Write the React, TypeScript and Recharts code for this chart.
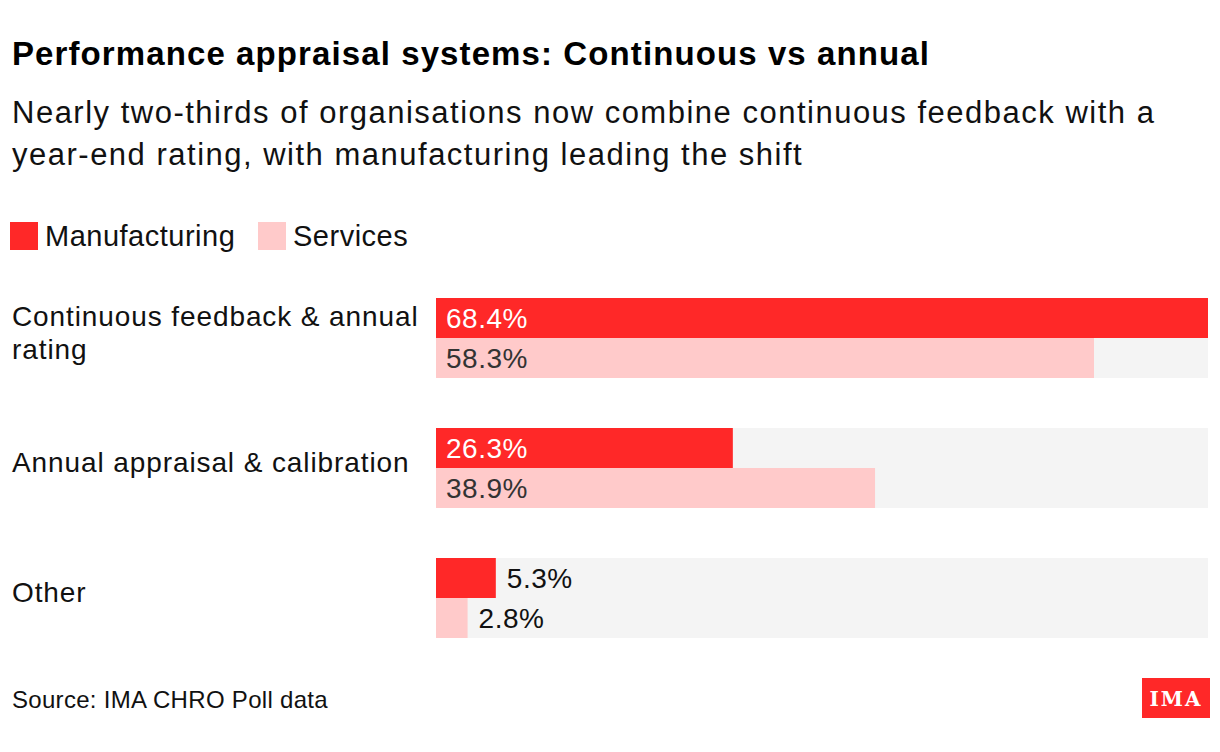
import React from 'react';
import { BarChart, Bar, XAxis, YAxis, LabelList } from 'recharts';

const CATEGORIES = ['Continuous feedback & annual rating', 'Annual appraisal & calibration', 'Other'];
const CATEGORY_LINES = [['Continuous feedback & annual', 'rating'], ['Annual appraisal & calibration'], ['Other']];
const MANUFACTURING = [68.4, 26.3, 5.3];
const SERVICES = [58.3, 38.9, 2.8];

const SERIES = [
  { key: 'manufacturing', name: 'Manufacturing', color: '#ff2828', inside: '#ffffff' },
  { key: 'services', name: 'Services', color: '#ffcaca', inside: '#333333' },
];

const FONT = '"Liberation Sans", Arial, Helvetica, sans-serif';
const W = 1220;
const H = 752;

const data = CATEGORIES.map((name, i) => ({
  name,
  manufacturing: MANUFACTURING[i],
  services: SERVICES[i],
}));

const CategoryTick = (props: any) => {
  const { y, payload, index } = props;
  const lines = CATEGORY_LINES[index] || [payload.value];
  const first = y + 4 - ((lines.length - 1) * 33) / 2;
  return (
    <text x={12} y={first} fill="#111" fontSize={28} letterSpacing={0.9} fontFamily={FONT} textAnchor="start">
      {lines.map((l: string, i: number) => (
        <tspan key={i} x={12} y={first + i * 33}>{l}</tspan>
      ))}
    </text>
  );
};

const valueLabel = (insideColor: string) => (props: any) => {
  const { x, y, width, height, value } = props;
  const inside = width > 90;
  return (
    <text
      x={inside ? x + 10 : x + width + 11}
      y={y + height / 2 + 10}
      fill={inside ? insideColor : '#111'}
      fontSize={28}
      letterSpacing={0.5}
      fontFamily={FONT}
      textAnchor="start"
    >
      {value}%
    </text>
  );
};

export default function App() {
  return (
    <div style={{ position: 'absolute', left: 0, top: 0, width: W, height: H, background: '#fff', fontFamily: FONT }}>
      <svg width={W} height={H} style={{ position: 'absolute', left: 0, top: 0 }}>
        <text x={12} y={65} fontSize={33} letterSpacing={1.1} fontWeight="bold" fill="#000" fontFamily={FONT}>
          Performance appraisal systems: Continuous vs annual
        </text>
        <text x={12} y={123} fontSize={31} letterSpacing={1.5} fill="#111" fontFamily={FONT}>
          Nearly two-thirds of organisations now combine continuous feedback with a
        </text>
        <text x={12} y={165} fontSize={31} letterSpacing={1.5} fill="#111" fontFamily={FONT}>
          year-end rating, with manufacturing leading the shift
        </text>
        {SERIES.map((s, i) => {
          const x0 = i === 0 ? 10 : 258;
          return (
            <g key={s.key}>
              <rect x={x0} y={222} width={28} height={28} fill={s.color} />
              <text x={x0 + 35} y={246} fontSize={29} letterSpacing={0.5} fill="#111" fontFamily={FONT}>{s.name}</text>
            </g>
          );
        })}
        <text x={12} y={708} fontSize={24} letterSpacing={0.3} fill="#111" fontFamily={FONT}>Source: IMA CHRO Poll data</text>
        <rect x={1142} y={678} width={68} height={40} fill="#ff2828" />
        <text x={1176} y={706} fontSize={20} fontWeight="bold" fill="#fff" textAnchor="middle"
          fontFamily='"DejaVu Serif", "Liberation Serif", serif' letterSpacing={2}>IMA</text>
      </svg>
      <div style={{ position: 'absolute', left: 0, top: 0 }}>
        <BarChart
          width={W}
          height={H}
          data={data}
          layout="vertical"
          margin={{ top: 273, right: 12, bottom: 89, left: 0 }}
          barGap={0}
          barSize={40}
        >
          <XAxis type="number" domain={[0, 68.4]} hide />
          <YAxis
            type="category"
            dataKey="name"
            width={436}
            axisLine={false}
            tickLine={false}
            tick={<CategoryTick />}
            interval={0}
          />
          {SERIES.map((s) => (
            <Bar
              key={s.key}
              dataKey={s.key}
              name={s.name}
              fill={s.color}
              background={{ fill: '#f4f4f4' }}
              isAnimationActive={false}
            >
              <LabelList dataKey={s.key} content={valueLabel(s.inside)} />
            </Bar>
          ))}
        </BarChart>
      </div>
    </div>
  );
}
